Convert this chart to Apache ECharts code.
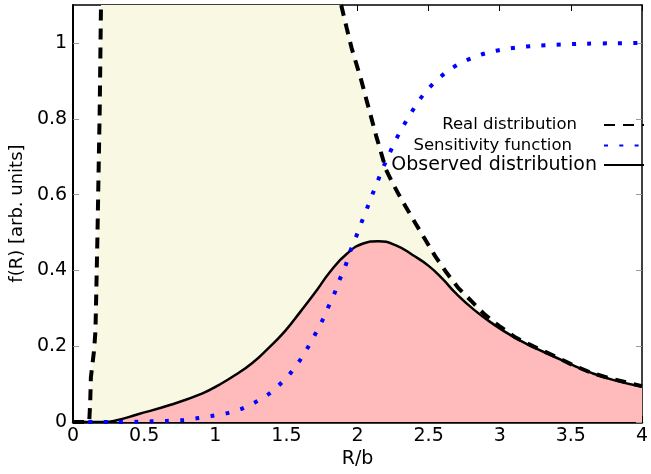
<!DOCTYPE html>
<html><head><meta charset="utf-8">
<script src="https://cdn.jsdelivr.net/npm/echarts@6/dist/echarts.min.js"></script>
<style>html,body{margin:0;padding:0;background:#fff}#c{width:651px;height:474px}</style>
</head><body><div id="c"></div>
<script>
const xTicks = [0, 0.5, 1, 1.5, 2, 2.5, 3, 3.5, 4];
const yTicks = [0, 0.2, 0.4, 0.6, 0.8, 1];
const yMax = 1.1;

// Real distribution: left rising branch and right falling branch (middle is off-scale)
const realLeft = [[0,0],[0.113,0],[0.12,0.05],[0.125,0.118],[0.136,0.153],[0.147,0.188],[0.157,0.24],[0.164,0.362],[0.171,0.489],[0.178,0.637],[0.187,0.825],[0.196,1.1]];
const realRight = [[1.885,1.1],[1.924,1.039],[1.958,0.987],[1.993,0.943],[2.028,0.899],[2.062,0.851],[2.131,0.755],[2.201,0.665],[2.25,0.628],[2.29,0.600],[2.339,0.568],[2.408,0.524],[2.478,0.480],[2.547,0.437],[2.628,0.393],[2.708,0.354],[2.801,0.319],[2.893,0.284],[2.997,0.253],[3.112,0.223],[3.24,0.199],[3.38,0.175],[3.51,0.151],[3.65,0.129],[3.79,0.114],[4,0.095]];

const sensitivity = [[0,0],[0.3,0],[0.45,0.001],[0.549,0.002],[0.655,0.003],[0.762,0.005],[0.867,0.01],[0.973,0.016],[1.077,0.023],[1.178,0.034],[1.275,0.051],[1.365,0.071],[1.446,0.097],[1.519,0.125],[1.586,0.158],[1.643,0.192],[1.695,0.227],[1.745,0.262],[1.789,0.299],[1.833,0.335],[1.871,0.373],[1.913,0.41],[1.947,0.449],[1.987,0.486],[2.024,0.523],[2.063,0.56],[2.102,0.598],[2.141,0.635],[2.182,0.673],[2.224,0.708],[2.27,0.745],[2.321,0.78],[2.376,0.815],[2.434,0.849],[2.5,0.88],[2.576,0.908],[2.662,0.933],[2.754,0.952],[2.853,0.967],[2.954,0.978],[3.06,0.985],[3.167,0.99],[3.272,0.993],[3.378,0.995],[3.6,0.998],[3.8,0.999],[4,1.0]];

const observed = [[0,0],[0.22,0],[0.3,0.004],[0.45,0.02],[0.68,0.045],[0.91,0.076],[1.03,0.099],[1.14,0.124],[1.26,0.156],[1.37,0.194],[1.49,0.24],[1.6,0.292],[1.716,0.349],[1.81,0.398],[1.925,0.444],[2.04,0.471],[2.144,0.477],[2.27,0.466],[2.39,0.44],[2.5,0.412],[2.6,0.377],[2.685,0.342],[2.82,0.296],[2.96,0.257],[3.1,0.224],[3.24,0.197],[3.38,0.173],[3.51,0.151],[3.65,0.129],[3.79,0.112],[4,0.093]];

const names = ['Real distribution', 'Sensitivity function', 'Observed distribution'];

const FONT = 'DejaVu Sans';
const chart = echarts.init(document.getElementById('c'), null, {renderer: 'canvas'});

const realLine = {type: [11, 8], width: 4, color: '#000', cap: 'butt'};

function legendFor(name, top, fontSize, padRight) {
  return {
    data: [name], right: 6, top: top, align: 'right', orient: 'vertical',
    itemWidth: 40, itemHeight: 14, padding: 0, selectedMode: false,
    itemStyle: {opacity: 0},
    textStyle: {fontFamily: FONT, fontSize: fontSize, color: '#000', lineHeight: 20, padding: [0, padRight, 0, 0]}
  };
}

chart.setOption({
  backgroundColor: '#fff',
  animation: false,
  grid: {left: 72, right: 1, top: 5, bottom: 49, containLabel: false},
  legend: [
    legendFor(names[0], 115, 16.5, 22),
    legendFor(names[1], 135.5, 16.5, 27),
    legendFor(names[2], 155, 19, 2)
  ],
  xAxis: [{
    type: 'value', min: 0, max: 4, interval: 0.5, position: 'bottom',
    axisLine: {show: true, lineStyle: {color: '#000', width: 2.5}},
    axisTick: {show: true, inside: true, length: 6, lineStyle: {color: '#000', width: 1}},
    axisLabel: {fontFamily: FONT, fontSize: 19, color: '#000', margin: 4, customValues: xTicks},
    splitLine: {show: false},
    name: 'R/b', nameLocation: 'middle', nameGap: 22,
    nameTextStyle: {fontFamily: FONT, fontSize: 19, color: '#000'}
  }, {
    type: 'value', min: 0, max: 4, interval: 0.5, position: 'top',
    axisLine: {show: true, onZero: false, lineStyle: {color: '#000', width: 1.5}},
    axisTick: {show: true, inside: true, length: 6, lineStyle: {color: '#000', width: 1}},
    axisLabel: {show: false}, splitLine: {show: false}
  }],
  yAxis: [{
    type: 'value', min: 0, max: yMax, interval: 0.2, position: 'left',
    axisLine: {show: true, onZero: false, lineStyle: {color: '#000', width: 2}},
    axisTick: {show: true, inside: true, length: 6, customValues: yTicks, lineStyle: {color: '#999', width: 1}},
    axisLabel: {fontFamily: FONT, fontSize: 19, color: '#000', margin: 6, customValues: yTicks},
    splitLine: {show: false},
    name: 'f(R) [arb. units]', nameLocation: 'middle', nameGap: 46, nameRotate: 90,
    nameTextStyle: {fontFamily: FONT, fontSize: 18, color: '#000'}
  }, {
    type: 'value', min: 0, max: yMax, interval: 0.2, position: 'right',
    axisLine: {show: true, onZero: false, lineStyle: {color: '#000', width: 1.5}},
    axisTick: {show: true, inside: true, length: 6, customValues: yTicks, lineStyle: {color: '#999', width: 1}},
    axisLabel: {show: false}, splitLine: {show: false}
  }],
  series: [
    {
      name: 'realFill', type: 'line', data: realLeft.concat(realRight), symbol: 'none', silent: true,
      lineStyle: {width: 0, opacity: 0}, areaStyle: {color: '#f8f8e3', opacity: 1}, z: 1
    },
    {
      name: names[2], type: 'line', data: observed, symbol: 'none', smooth: 0.5,
      lineStyle: {color: '#000', width: 2.5}, itemStyle: {color: '#000'},
      areaStyle: {color: '#ffbbbb', opacity: 1}, z: 2
    },
    {
      name: names[1], type: 'line', data: sensitivity, symbol: 'none', smooth: 0.3, clip: false,
      lineStyle: {color: '#0000ff', width: 4, type: [4, 11.3], cap: 'butt'}, itemStyle: {color: '#0000ff'}, z: 3
    },
    {
      name: names[0], type: 'line', data: realLeft, symbol: 'none', clip: false,
      lineStyle: realLine, itemStyle: {color: '#000'}, z: 4
    },
    {
      name: names[0], type: 'line', data: realRight, symbol: 'none', clip: false,
      lineStyle: realLine, itemStyle: {color: '#000'}, z: 4
    }
  ]
});
</script>
</body></html>
